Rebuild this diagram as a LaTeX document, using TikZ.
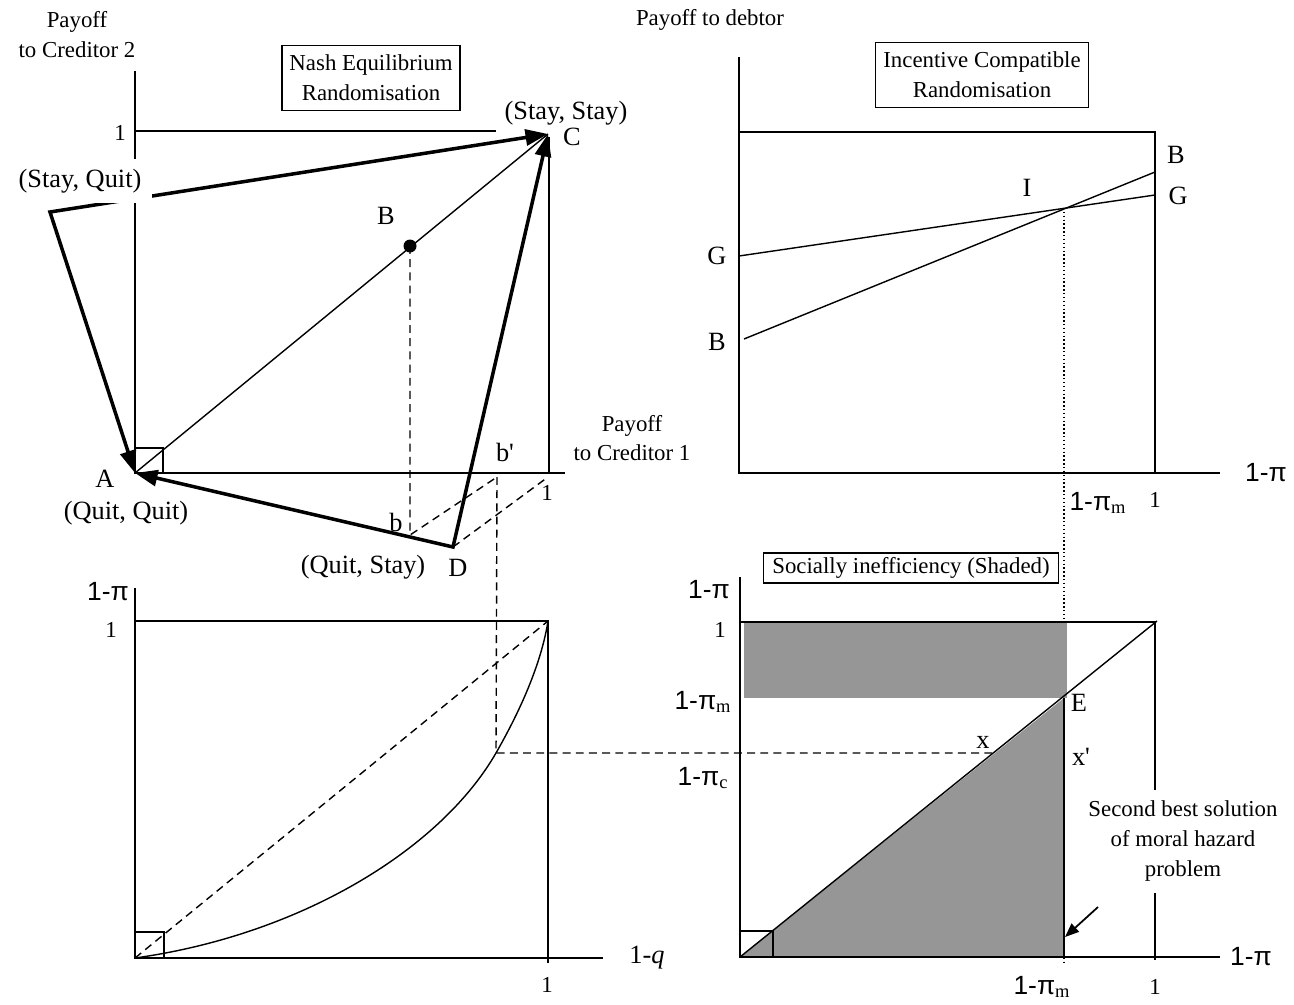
\documentclass[tikz,border=0pt]{standalone}
\usepackage{fontspec}
\setmainfont{Liberation Serif}
\setsansfont{Liberation Sans}
\definecolor{payShade}{HTML}{969696}
\usepackage{tikz}
\usetikzlibrary{arrows.meta}

\begin{document}
\begin{tikzpicture}[x=0.02cm, y=-0.02cm, line width=0.8pt,
  lbl/.style={font=\fontsize{15}{18}\selectfont, inner sep=1pt},
  note/.style={font=\fontsize{13}{17}\selectfont, align=center, inner sep=1pt},
  title/.style={draw, line width=0.6pt, font=\fontsize{13}{17}\selectfont,
    align=center, inner sep=2pt},
  prob/.style={font=\sffamily\fontsize{15}{18}\selectfont, inner sep=1pt},
  move/.style={line width=2pt,
    {Triangle[length=0.45cm,width=0.32cm]}-{Triangle[length=0.45cm,width=0.32cm]}},
  guide/.style={dash pattern=on 4.5pt off 3pt}]
  \useasboundingbox (0,0) rectangle (1294,1004);

  % creditors' payoffs
  \coordinate (A) at (135,473);
  \coordinate (C) at (548,134);
  \coordinate (D) at (453,547);
  \coordinate (SQ) at (50,212);
  \coordinate (b) at (410,535);
  \coordinate (bp) at (497,477);
  \coordinate (cone) at (548,477);
  \draw (135,71) -- (135,473) -- (565,473);
  \draw (135,131) -- (496,131);
  \draw (549,137) -- (549,473);
  \draw (135,448) rectangle (163,473);
  \draw (A) -- (C);
  \node[circle, fill, inner sep=0pt, minimum size=0.26cm] (Bdot) at (410,246) {};
  \draw[guide] (Bdot.center) -- (b) -- (bp);
  \draw[guide] (D) -- (cone);
  \draw[move] (A) -- (SQ) -- (C);
  \draw[move] (A) -- (D) -- (C);
  \node[lbl, fill=white, minimum width=2.9cm, minimum height=0.9cm] (SQlbl) at (80,181) {(Stay, Quit)};
  \node[note] (cr2) at (77,35) {Payoff\\to Creditor 2};
  \node[title, minimum width=3.56cm, minimum height=1.3cm] (nash) at (371,78) {Nash Equilibrium\\Randomisation};
  \node[note] (oneY) at (120,133) {1};
  \node[lbl] (SSlbl) at (566,113) {(Stay, Stay)};
  \node[lbl] (Clbl) at (572,137) {C};
  \node[lbl] (Blbl) at (386,216) {B};
  \node[lbl] (Albl) at (105,479) {A};
  \node[lbl] (QQlbl) at (126,513) {(Quit, Quit)};
  \node[lbl] (bplbl) at (505,452) {b\textquotesingle};
  \node[lbl] (blbl) at (396,522) {b};
  \node[note] (cr1) at (632,438) {Payoff\\to Creditor 1};
  \node[note] (oneX) at (547,493) {1};
  \node[lbl] (QSlbl) at (363,567) {(Quit, Stay)};
  \node[lbl] (Dlbl) at (458,568) {D};

  % debtor's payoff
  \coordinate (Gl) at (739,256);
  \coordinate (Gr) at (1155,195);
  \coordinate (Bl) at (744,339);
  \coordinate (Br) at (1155,172);
  \coordinate (I) at (1064,208);
  \coordinate (pimBot) at (1064,965);
  \draw[line width=0.6pt, dash pattern=on 0.8pt off 1.4pt] (I) -- (pimBot);
  \draw (739,57) -- (739,473) -- (1220,473);
  \draw (739,132) -- (1155,132) -- (1155,473);
  \draw (Gl) -- (Gr);
  \draw (Bl) -- (Br);
  \node[note] (debt) at (710,20) {Payoff to debtor};
  \node[title, minimum width=4.26cm, minimum height=1.3cm] (icr) at (982,75) {Incentive Compatible\\Randomisation};
  \node[lbl] (Brlbl) at (1176,155) {B};
  \node[lbl] (Grlbl) at (1178,196) {G};
  \node[lbl] (Ilbl) at (1027,188) {I};
  \node[lbl] (Gllbl) at (717,256) {G};
  \node[lbl] (Bllbl) at (717,342) {B};
  \node[prob] (axTR) at (1266,473) {1-π};
  \node[prob] (pimTR) at (1098,503) {1-π\textsubscript{\rmfamily m}};
  \node[note] (oneTR) at (1155,500) {1};

  % probabilities
  \coordinate (kink) at (496,753);
  \coordinate (xpt) at (993,753);
  \draw (135,588) -- (135,958) -- (603,958);
  \draw (135,621) -- (548,621) -- (548,963);
  \draw (135,932) rectangle (164,958);
  \draw[guide] (135,958) -- (548,621);
  \draw (135,958) .. controls (300,935) and (440,850) .. (kink)
    .. controls (512,725) and (540,672) .. (548,621);
  \draw[guide] (bp) -- (kink) -- (xpt);
  \node[prob] (axBLy) at (108,592) {1-π};
  \node[note] (oneBLy) at (111,630) {1};
  \node[lbl] (axBLx) at (647,958) {1-\textit{q}};
  \node[note] (oneBLx) at (547,985) {1};

  % social inefficiency
  \coordinate (O4) at (740,957);
  \coordinate (E) at (1064,698);
  \coordinate (Ebase) at (1064,957);
  \coordinate (T4) at (1157,621);
  \coordinate (sbTail) at (1098,907);
  \coordinate (sbTip) at (1065,937);
  \fill[payShade] (744,623) rectangle (1067,698);
  \fill[payShade] (O4) -- (E) -- (Ebase) -- cycle;
  \draw (740,577) -- (740,957) -- (1220,957);
  \draw (740,622) -- (1155,622) -- (1155,960);
  \draw (O4) -- (T4);
  \draw[line width=1.2pt] (E) -- (Ebase);
  \draw[line width=1.2pt] (O4) -- (Ebase);
  \draw (740,931) rectangle (773,957);
  \node[note, fill=white, minimum height=2.06cm] (sbLbl) at (1183,841) {Second best solution\\of moral hazard\\problem};
  \draw[line width=1pt, -{Triangle[length=0.28cm,width=0.22cm]}] (sbTail) -- (sbTip);
  \node[title, minimum width=5.9cm, minimum height=0.6cm, inner sep=1pt] (soc) at (911,568) {Socially inefficiency (Shaded)};
  \node[prob] (axBRy) at (709,590) {1-π};
  \node[note] (oneBRy) at (720,630) {1};
  \node[prob] (pimBR) at (703,702) {1-π\textsubscript{\rmfamily m}};
  \node[prob] (picBR) at (703,778) {1-π\textsubscript{\rmfamily c}};
  \node[lbl] (Elbl) at (1079,703) {E};
  \node[lbl] (xlbl) at (983,742) {x};
  \node[lbl] (xplbl) at (1081,757) {x\textquotesingle};
  \node[prob] (axBRx) at (1251,957) {1-π};
  \node[prob] (pimBRx) at (1042,987) {1-π\textsubscript{\rmfamily m}};
  \node[note] (oneBRx) at (1155,987) {1};
\end{tikzpicture}
\end{document}
